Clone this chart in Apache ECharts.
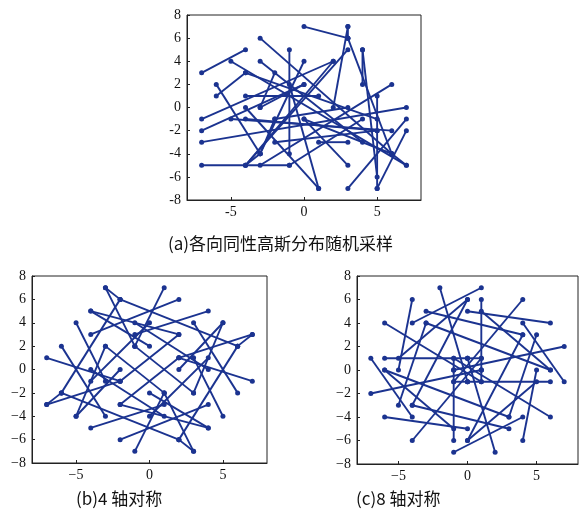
<!DOCTYPE html>
<html><head><meta charset="utf-8">
<script src="https://cdn.jsdelivr.net/npm/echarts@6/dist/echarts.min.js"></script>
<style>html,body{margin:0;padding:0;background:#fff}#c{width:586px;height:516px}</style>
</head><body><div id="c"></div>
<script>
// Segments: [x1, y1, x2, y2]
var segmentsA = [
  [0,7,3,6],[3,7,3,6],[3,6,6,-4],[3,7,2,0],[4,5,4,2],[-7,3,-4,5],[-5,4,7,-5],[-3,6,6,-4],
  [-6,1,-4,3],[-6,2,-3,-4],[-7,-1,2,4],[-7,-2,0,2],[-7,-3,7,0],[-7,-5,-1,-5],
  [-4,-5,3,5],[-4,-5,2,4],[-3,-5,6,2],[-5,-1,6,-2],[-1,5,-1,-4],[4,5,5,-6],
  [5,1,5,-7],[7,-1,3,-7],[7,-2,5,-7],[1,-7,-4,0],[1,-7,-1,2],[3,-5,0,-1],
  [-3,0,-2,3],[-4,1,1,1],[-4,-1,5,-2],[7,-5,6,-4],[-3,4,4,-3],[1,-3,3,-3],
  [-3,-4,-2,-1],[-2,-3,5,-2],[0,2,-3,0],[-4,-5,-3,-4],[-2,-1,3,0],[4,-1,-1,-5],
  [0,-1,6,-4],[-4,3,5,-1],[0,4,-3,-4]
];
var segmentsB = [
  [1,7,-1,2],[-7,1,-2,-1],[-1,-7,1,-2],[7,-1,2,1],
  [7,3,2,1],[-3,7,-1,2],[-7,-3,-2,-1],[3,-7,1,-2],
  [-2,6,6,2],[-6,-2,-2,6],[2,-6,-6,-2],[6,2,2,-6],
  [2,6,-4,3],[-6,2,-3,-4],[-2,-6,4,-3],[6,-2,3,4],
  [4,5,-1,3],[-5,4,-3,-1],[-4,-5,1,-3],[5,-4,3,1],
  [-4,5,2,3],[-5,-4,-3,2],[4,-5,-2,-3],[5,4,3,-2],
  [5,4,2,0],[-4,5,0,2],[-5,-4,-2,0],[4,-5,0,-2],
  [0,4,-4,-1],[-4,0,1,-4],[0,-4,4,1],[4,0,-1,4],
  [2,1,-2,-3],[-1,2,3,-2],[-2,-1,2,3],[1,-2,-3,2],
  [-3,7,-2,6],[-7,-3,-6,-2],[3,-7,2,-6],[7,3,6,2]
];
var segmentsC = [
  [1,7,-4,4],[-7,1,-4,-4],[-1,-7,4,-4],[7,-1,4,4],
  [-2,7,0,-1],[-7,-2,1,0],[2,-7,0,1],[7,2,-1,0],
  [-4,6,-5,0],[-6,-4,0,-5],[4,-6,5,0],[6,4,0,5],
  [4,6,-1,-1],[-6,4,1,-1],[-4,-6,1,1],[6,-4,-1,1],
  [0,6,-4,-3],[-6,0,3,-4],[0,-6,4,3],[6,0,-3,4],
  [1,6,1,0],[-6,1,0,1],[-1,-6,-1,0],[6,-1,0,-1],
  [-3,5,4,3],[-5,-3,-3,4],[3,-5,-4,-3],[5,3,3,-4],
  [0,1,1,1],[-1,0,-1,1],[0,-1,-1,-1],[1,0,1,-1],
  [1,5,6,0],[-5,1,0,6],[-1,-5,-6,0],[5,-1,0,-6]
];
var yTicks = [-8,-6,-4,-2,0,2,4,6,8];
var xTicks = [-5,0,5];
var captions = ['(a)各向同性高斯分布随机采样', '(b)4 轴对称', '(c)8 轴对称'];

var chart = echarts.init(document.getElementById('c'), null, {renderer:'canvas'});
var color = '#1b3390';
var grids = [
  {left:187, top:15, width:234, height:185},
  {left:32, top:276, width:235, height:187},
  {left:357, top:276, width:221, height:188}
];
var minus = [false, true, true];
function fmt(i){ return function(v){ var s = String(v); return minus[i] ? s.replace('-', '\u2212') : s; }; }
var lbl = {color:'#111', fontFamily:'Liberation Serif', fontSize:14};
var xAxes = [], yAxes = [], series = [];
grids.forEach(function(g, i){
  g.show = true; g.borderColor = '#222'; g.borderWidth = 1; g.backgroundColor = '#fff';
  xAxes.push({type:'value', gridIndex:i, min:-8, max:8,
    axisLine:{onZero:false, lineStyle:{color:'#222', width:1}},
    axisTick:{inside:true, length:3, customValues:xTicks, lineStyle:{color:'#222'}},
    axisLabel:Object.assign({customValues:xTicks, margin:5, formatter:fmt(i)}, lbl),
    splitLine:{show:false}});
  yAxes.push({type:'value', gridIndex:i, min:-8, max:8, interval:2,
    axisLine:{onZero:false, show:true, lineStyle:{color:'#222', width:1}},
    axisTick:{inside:true, length:3, lineStyle:{color:'#222'}},
    axisLabel:Object.assign({margin:6, formatter:fmt(i)}, lbl),
    splitLine:{show:false}});
});
[segmentsA, segmentsB, segmentsC].forEach(function(segs, i){
  segs.forEach(function(s){
    series.push({type:'line', xAxisIndex:i, yAxisIndex:i, data:[[s[0],s[1]],[s[2],s[3]]],
      symbol:'circle', symbolSize:5, showSymbol:true,
      lineStyle:{color:color, width:1.9}, itemStyle:{color:color},
      emphasis:{disabled:true}, silent:true, animation:false});
  });
});
var capFont = '17px "Noto Sans CJK SC"';
chart.setOption({
  animation:false,
  grid:grids, xAxis:xAxes, yAxis:yAxes, series:series,
  graphic:[
    {type:'text', left:168, top:235, style:{text:captions[0], fill:'#111', font:capFont}},
    {type:'text', left:76, top:490, style:{text:captions[1], fill:'#111', font:capFont}},
    {type:'text', left:356, top:490, style:{text:captions[2], fill:'#111', font:capFont}}
  ]
});
</script></body></html>
